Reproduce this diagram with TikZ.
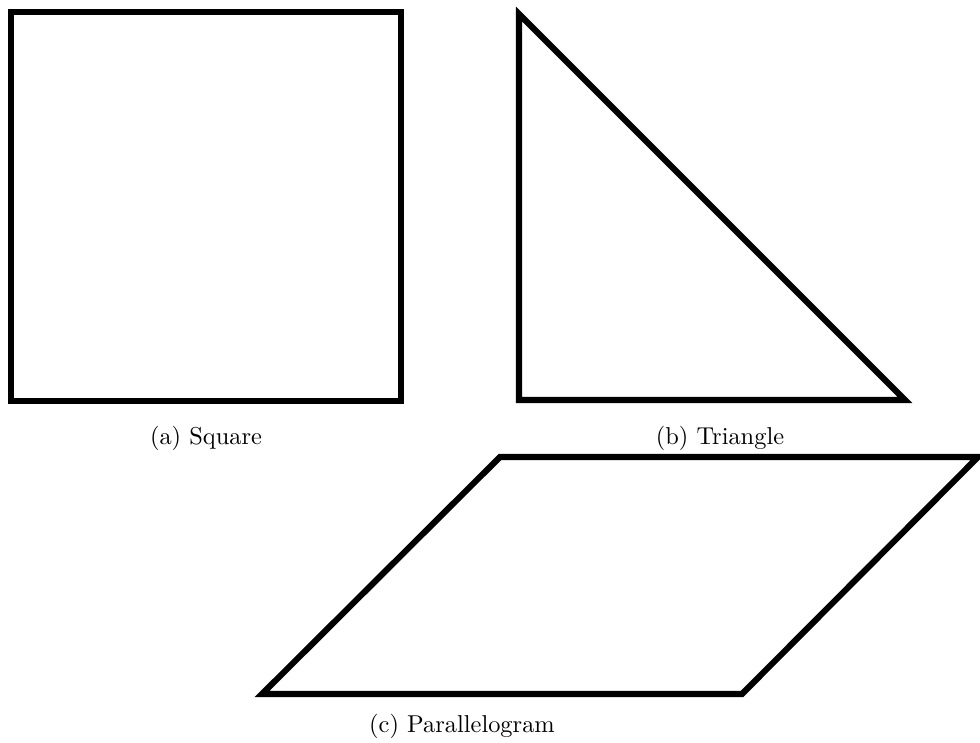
\documentclass[tikz,border=0pt]{standalone}
\usepackage{amsmath, amssymb}

\begin{document}
\begin{tikzpicture}[x=0.0144cm, y=-0.0144cm]
    \useasboundingbox (0,0) rectangle (980,743);
    \draw[line width=2.5pt] (11,12) rectangle (401,401);
    \draw[line width=2.5pt] (519,14) -- (519,400) -- (905,400) -- cycle;
    \draw[line width=2.5pt] (500,457) -- (978,457) -- (742,694) -- (262,694) -- cycle;
    \node (square) at (206,438) {(a) Square};
    \node (triangle) at (720,438) {(b) Triangle};
    \node (parallelogram) at (462,726) {(c) Parallelogram};
    \end{tikzpicture}
\end{document}
